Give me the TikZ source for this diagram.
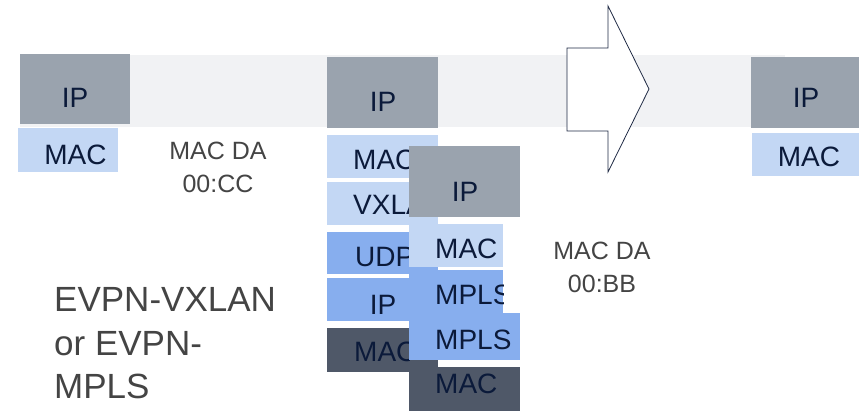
\documentclass[tikz,border=0pt]{standalone}
\usepackage{fontspec}
\setmainfont{Liberation Sans}
\definecolor{bandgray}{HTML}{F1F2F4}
\definecolor{boxgray}{HTML}{9AA3AE}
\definecolor{lightblue}{HTML}{C3D7F4}
\definecolor{midblue}{HTML}{87AEEE}
\definecolor{darkslate}{HTML}{4F5868}
\definecolor{navy}{HTML}{0B1A3A}
\definecolor{textgray}{HTML}{444444}
\definecolor{arrowline}{HTML}{1F2A44}
\begin{document}
\begin{tikzpicture}[x=1pt,y=-1pt,
  box/.style={rectangle, inner sep=0pt, outer sep=0pt, anchor=north west, draw=none},
  lbl/.style={font=\fontsize{28}{30}\selectfont, text=navy, inner sep=0pt},
  note/.style={font=\fontsize{25}{33}\selectfont, text=textgray, inner sep=0pt, align=center},
  big/.style={font=\fontsize{35}{43}\selectfont, text=textgray, inner sep=0pt, align=left}]
\useasboundingbox (0,0) rectangle (859,411);
% background band
\fill[bandgray] (20,55) rectangle (785,127);
% arrow
\draw[arrowline, fill=white, line width=0.8pt, line join=miter]
  (567,48) -- (608,48) -- (608,6) -- (649,89) -- (608,172) -- (608,131) -- (567,131) -- cycle;
% first frame
\node[box, fill=boxgray, minimum width=110pt, minimum height=70pt] (ip1) at (20,54) {};
\node[box, fill=lightblue, minimum width=100pt, minimum height=44pt] (mac1) at (18,128) {};
\node[lbl, anchor=base] (ip1t) at (75,108) {IP};
\node[lbl, anchor=base] (mac1t) at (75.5,165) {MAC};
\node[note, anchor=base] (da1) at (218,193) {MAC DA\\00:CC};
% VXLAN stack
\node[box, fill=boxgray, minimum width=111pt, minimum height=71pt] (ip2) at (327,57) {};
\node[box, fill=lightblue, minimum width=111pt, minimum height=43pt] (mac2) at (327,135) {};
\node[box, fill=lightblue, minimum width=111pt, minimum height=43pt] (vx) at (327,182) {};
\node[box, fill=midblue, minimum width=111pt, minimum height=42pt] (udp) at (327,232) {};
\node[box, fill=midblue, minimum width=111pt, minimum height=43pt] (ipl) at (327,278) {};
\node[box, fill=darkslate, minimum width=111pt, minimum height=44pt] (macl) at (327,328) {};
\node[lbl, anchor=base] (ip2t) at (383,112) {IP};
\begin{scope}
  \clip (320,120) rectangle (409,400);
  \node[lbl, anchor=base west] (mac2t) at (353,170) {MAC};
  \node[lbl, anchor=base west] (vxt) at (353,215) {VXLAN};
  \node[lbl, anchor=base west] (udpt) at (355,267) {UDP};
  \node[lbl, anchor=base west] (maclt) at (354,362) {MAC};
\end{scope}
\node[lbl, anchor=base] (iplt) at (383,315) {IP};
% MPLS stack
\node[box, fill=boxgray, minimum width=111pt, minimum height=71pt] (ip3) at (409,146) {};
\node[box, fill=lightblue, minimum width=94pt, minimum height=43pt] (mac3) at (409,224) {};
\node[box, fill=midblue, minimum width=94pt, minimum height=43pt] (mpls1) at (409,270) {};
\node[box, fill=midblue, minimum width=111pt, minimum height=47pt] (mpls2) at (409,313) {};
\node[box, fill=darkslate, minimum width=111pt, minimum height=44pt] (mac5) at (409,367) {};
\node[lbl, anchor=base] (ip3t) at (465,202) {IP};
\node[lbl, anchor=base west] (mac3t) at (435,259) {MAC};
\begin{scope}
  \clip (409,265) rectangle (503,313);
  \node[lbl, anchor=base west] (mpls1t) at (435,305) {MPLS};
\end{scope}
\node[lbl, anchor=base west] (mpls2t) at (435,350) {MPLS};
\node[lbl, anchor=base west] (mac5t) at (435,393) {MAC};
\node[note, anchor=base] (da2) at (602,293) {MAC DA\\00:BB};
% last frame
\node[box, fill=boxgray, minimum width=108pt, minimum height=71pt] (ip4) at (751,57) {};
\node[box, fill=lightblue, minimum width=107pt, minimum height=43pt] (mac4) at (752,133) {};
\node[lbl, anchor=base] (ip4t) at (806,108) {IP};
\node[lbl, anchor=base] (mac4t) at (809,167) {MAC};
% caption
\node[big, anchor=base west] (cap) at (54,398) {EVPN-VXLAN\\or EVPN-\\MPLS};
\end{tikzpicture}
\end{document}
